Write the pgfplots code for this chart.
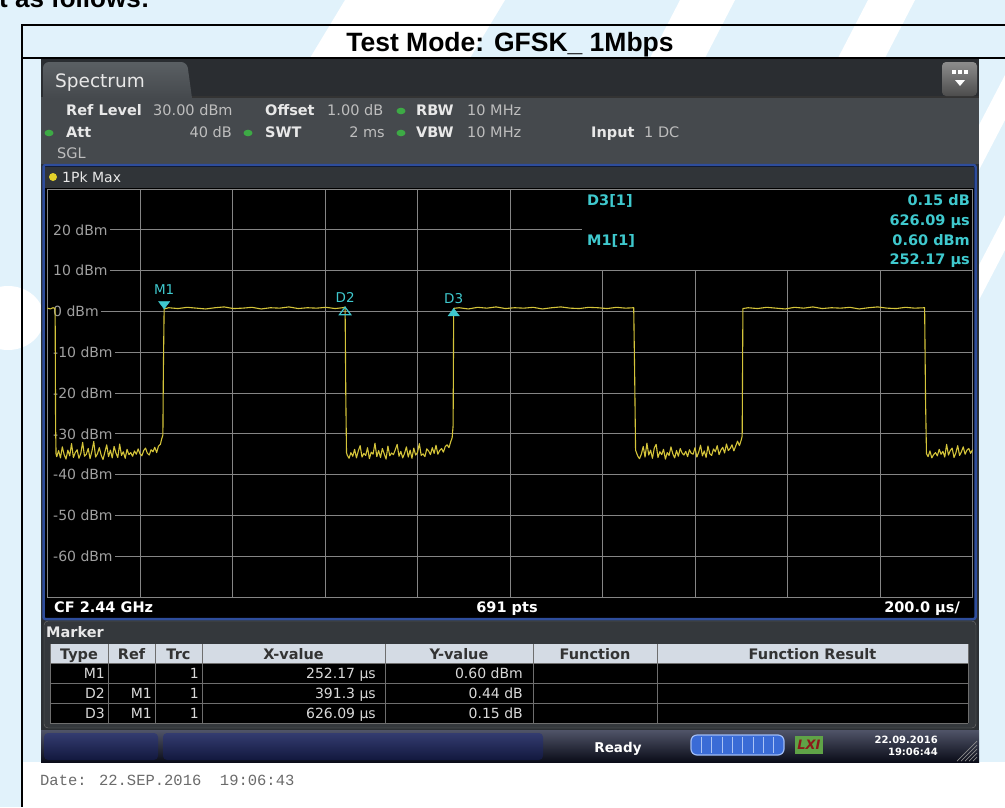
\documentclass[border=0pt]{standalone}
\usepackage{fontspec}
\setmainfont{DejaVu Sans}
\newfontfamily\arialfont{Liberation Sans}
\newfontfamily\courfont{Liberation Mono}
\usepackage{pgfplots}
\pgfplotsset{compat=1.18}
\newcommand\fs[1]{\fontsize{#1}{#1}\selectfont}
\definecolor{bgblue}{HTML}{E1F2FB}
\definecolor{scrdark}{HTML}{2C3034}
\definecolor{topstrip}{HTML}{2A2D31}
\definecolor{tabtop}{HTML}{5A5F63}
\definecolor{panelgray}{HTML}{45494D}
\definecolor{frameblue}{HTML}{2E4D9C}
\definecolor{barbg}{HTML}{303438}
\definecolor{gridc}{HTML}{858585}
\definecolor{labc}{HTML}{A0A0A0}
\definecolor{tracec}{HTML}{D4C43A}
\definecolor{mkc}{HTML}{3FC9CE}
\definecolor{hdrtxt}{HTML}{E8E8E8}
\definecolor{valtxt}{HTML}{BEBEBE}
\definecolor{tblhead}{HTML}{D4DBE4}
\definecolor{tblline}{HTML}{6E6E6E}
\definecolor{dotgreen}{HTML}{3DAA45}
\definecolor{dotyellow}{HTML}{E3D12A}
\definecolor{mpanel}{HTML}{34383C}
\definecolor{sbtop}{HTML}{505468}
\definecolor{sbbot}{HTML}{0A0C18}
\definecolor{boxtop}{HTML}{343C70}
\definecolor{boxbot}{HTML}{12183E}
\definecolor{progfill}{HTML}{3A6BD6}
\definecolor{progedge}{HTML}{A0BCF5}
\definecolor{progdiv}{HTML}{AAC2F5}
\definecolor{lxigreen}{HTML}{5FA347}
\definecolor{lxired}{HTML}{8C1A1A}
\newcommand\ylab[2]{\node[anchor=west, fill=black, inner xsep=0pt, inner ysep=2pt, text=labc, font=\fs{14}] at (axis cs:0,#1) {\hspace*{5.5pt}#2\hspace*{2.5pt}};}
\begin{document}
\begin{tikzpicture}
\useasboundingbox (0pt,0pt) rectangle (1005pt,-807pt);
\begin{scope}[x=1pt,y=-1pt]
% document background
\fill[bgblue] (0,0) rectangle (1005,807);
\fill[white] (345,0) -- (505,0) -- (470,58) -- (310,58) -- cycle;
\fill[white] (680,0) -- (735,0) -- (705,58) -- (650,58) -- cycle;
\fill[white] (868,0) -- (915,0) -- (885,58) -- (838,58) -- cycle;
\fill[white] (1005,75) -- (1005,120) -- (979,170) -- (979,125) -- cycle;
\fill[white] (1005,215) -- (1005,250) -- (979,300) -- (979,265) -- cycle;
\fill[white] (8,318) ellipse (36 and 32);
\fill[white] (23,762) rectangle (1005,807);
\node[anchor=base west, inner sep=0pt] at (-1,7) {\arialfont\bfseries\fs{26}t as follows:};
% document table lines
\draw[black, line width=2pt] (22,25) -- (1005,25);
\draw[black, line width=2pt] (22,58) -- (1005,58);
\draw[black, line width=2pt] (22,24) -- (22,807);
\node[anchor=base, inner sep=0pt] at (510,51) {\arialfont\bfseries\fs{26.5}Test Mode: GFSK\_ 1Mbps};
% screenshot
\fill[scrdark] (41,59) rectangle (979,762);
\fill[topstrip] (41,59) rectangle (979,97);
\fill[panelgray] (41,97) rectangle (979,164);
\shade[top color=tabtop, bottom color=panelgray] (43,98) [rounded corners=6pt] -- (43,62) -- (187,62) [sharp corners] -- (192,98) -- cycle;
\draw[black!80, line width=1.2pt] (192,97) -- (979,97);
\node[anchor=base west, inner sep=0pt, text=hdrtxt] at (55,87) {\fs{18.5}Spectrum};
% icon
\shade[rounded corners=4pt, top color=black!45, bottom color=black!70] (942,62) rectangle (977,96);
\fill[white] (952,70) rectangle (956,74);
\fill[white] (958,70) rectangle (962,74);
\fill[white] (964,70) rectangle (968,74);
\fill[white] (955,80) -- (965,80) -- (960,86) -- cycle;
% header text
\node[anchor=base west, inner sep=0pt, text=hdrtxt] at (66,115) {\fs{14.5}\bfseries Ref Level};
\node[anchor=base west, inner sep=0pt, text=valtxt] at (153,115) {\fs{14.5}30.00 dBm};
\node[anchor=base west, inner sep=0pt, text=hdrtxt] at (265,115) {\fs{14.5}\bfseries Offset};
\node[anchor=base west, inner sep=0pt, text=valtxt] at (327,115) {\fs{14.5}1.00 dB};
\fill[dotgreen] (401,111) ellipse (4.5 and 3.3);
\node[anchor=base west, inner sep=0pt, text=hdrtxt] at (416,115) {\fs{14.5}\bfseries RBW};
\node[anchor=base west, inner sep=0pt, text=valtxt] at (467,115) {\fs{14.5}10 MHz};
\fill[dotgreen] (49,133) ellipse (4.5 and 3.3);
\node[anchor=base west, inner sep=0pt, text=hdrtxt] at (66,137) {\fs{14.5}\bfseries Att};
\node[anchor=base east, inner sep=0pt, text=valtxt] at (232,137) {\fs{14.5}40 dB};
\fill[dotgreen] (248,133) ellipse (4.5 and 3.3);
\node[anchor=base west, inner sep=0pt, text=hdrtxt] at (265,137) {\fs{14.5}\bfseries SWT};
\node[anchor=base east, inner sep=0pt, text=valtxt] at (385,137) {\fs{14.5}2 ms};
\fill[dotgreen] (401,133) ellipse (4.5 and 3.3);
\node[anchor=base west, inner sep=0pt, text=hdrtxt] at (416,137) {\fs{14.5}\bfseries VBW};
\node[anchor=base west, inner sep=0pt, text=valtxt] at (467,137) {\fs{14.5}10 MHz};
\node[anchor=base west, inner sep=0pt, text=hdrtxt] at (591,137) {\fs{14.5}\bfseries Input};
\node[anchor=base west, inner sep=0pt, text=valtxt] at (644,137) {\fs{14.5}1 DC};
\node[anchor=base west, inner sep=0pt, text=valtxt] at (57,158) {\fs{14.5}SGL};
% diagram frame
\fill[black] (43,165) rectangle (976,619);
\fill[barbg] (45,167) rectangle (974,188);
\draw[frameblue, line width=2.5pt, rounded corners=2pt] (43.5,165) rectangle (975.5,619);
\fill[dotyellow] (53,177) circle (4);
\node[anchor=base west, inner sep=0pt, text=hdrtxt] at (62,182) {\fs{14}1Pk Max};
\node[anchor=base west, inner sep=0pt, text=white] at (54,612) {\fs{14.5}\bfseries CF 2.44 GHz};
\node[anchor=base, inner sep=0pt, text=white] at (507,612) {\fs{14.5}\bfseries 691 pts};
\node[anchor=base east, inner sep=0pt, text=white] at (960,612) {\fs{14.5}\bfseries 200.0 µs/};
% marker panel
\fill[mpanel, rounded corners=4pt] (44,621) rectangle (976,728);
\draw[black!55, rounded corners=4pt] (44,621) rectangle (976,728);
\node[anchor=base west, inner sep=0pt, text=hdrtxt] at (46,637) {\fs{14.5}\bfseries Marker};
\fill[tblhead] (50,644) rectangle (968,663);
\fill[black] (50,663) rectangle (968,723);
\foreach \yy in {663,683,703,723} {\draw[tblline, line width=1pt] (50,\yy) -- (968,\yy);}
\foreach \xx in {50,108,155,202,385,533,657,968} {\draw[tblline, line width=1pt] (\xx,644) -- (\xx,723);}
\foreach \xx/\tt in {79/Type,131.5/Ref,178.5/Trc,293.5/X-value,459/Y-value,595/Function,812.5/Function Result}
  {\node[anchor=base, inner sep=0pt, text=black!80] at (\xx,659) {\fs{14.5}\bfseries \tt};}
\foreach \yy/\a/\b/\c/\d in {678/M1//252.17 µs/0.60 dBm,698/D2/M1/391.3 µs/0.44 dB,718/D3/M1/626.09 µs/0.15 dB}
  {\node[anchor=base east, inner sep=0pt, text=black!15] at (105,\yy) {\fs{14}\a};
   \node[anchor=base east, inner sep=0pt, text=black!15] at (152,\yy) {\fs{14}\b};
   \node[anchor=base east, inner sep=0pt, text=black!15] at (199,\yy) {\fs{14}1};
   \node[anchor=base east, inner sep=0pt, text=black!15] at (376,\yy) {\fs{14}\c};
   \node[anchor=base east, inner sep=0pt, text=black!15] at (523,\yy) {\fs{14}\d};}
% status bar
\shade[top color=sbtop, bottom color=sbbot] (41,730) rectangle (979,762);
\shade[rounded corners=4pt, top color=boxtop, bottom color=boxbot] (44,733) rectangle (158,760);
\shade[rounded corners=4pt, top color=boxtop, bottom color=boxbot] (163,733) rectangle (543,760);
\node[anchor=base, inner sep=0pt, text=white] at (618,752) {\fs{13.5}\bfseries Ready};
\fill[progfill, rounded corners=6pt] (691,735) rectangle (784,755);
\draw[progedge, rounded corners=6pt, line width=1.2pt] (691,735) rectangle (784,755);
\foreach \k in {1,...,8} {\draw[progdiv, line width=0.9pt] (691+\k*10.33,737) -- (691+\k*10.33,753);}
\fill[lxigreen] (795,736) rectangle (823,754);
\node[inner sep=0pt, text=lxired] at (809,745) {\fs{13}\bfseries\itshape LXI};
\node[anchor=base east, inner sep=0pt, text=white] at (938,743) {\fs{10}\bfseries 22.09.2016};
\node[anchor=base east, inner sep=0pt, text=white] at (938,755) {\fs{10}\bfseries 19:06:44};
\foreach \k in {0,...,4} {\draw[black!45, line width=0.7pt] (957+4*\k,761) -- (977,741+4*\k);}
% date line
\node[anchor=base west, inner sep=0pt, text=black!58] at (40,785) {\courfont\fs{15.5}Date: 22.SEP.2016~~19:06:43};
\end{scope}
\begin{axis}[
  at={(47.5pt,-189pt)}, anchor=north west,
  width=925pt, height=408pt, scale only axis,
  xmin=0, xmax=2000, ymin=-70, ymax=30,
  axis background/.style={fill=black},
  axis line style={gridc, line width=0.8pt},
  xtick={0,200,...,2000}, ytick={-70,-60,...,30},
  xticklabels={}, yticklabels={},
  major tick length=0pt,
  grid=major,
  major grid style={gridc, line width=0.8pt},
  clip=false,
]
\ylab{20}{20 dBm}
\ylab{10}{10 dBm}
\ylab{0}{0 dBm}
\ylab{-10}{-10 dBm}
\ylab{-20}{-20 dBm}
\ylab{-30}{-30 dBm}
\ylab{-40}{-40 dBm}
\ylab{-50}{-50 dBm}
\ylab{-60}{-60 dBm}
\addplot[tracec, line width=1.1pt, line join=round] coordinates {
(0,0.8) (6,0.6) (12,0.9) (16.5,0.7) (17.5,-28) (18.5,-35.0)
(20,-35.6) (24,-34.1) (28,-35.9) (32,-33.2) (36,-35.1) (40,-36.2) (44,-34.0) (48,-35.4) (52,-32.4) (56,-35.8)
(60,-34.6) (64,-33.9) (68,-36.0) (72,-34.8) (76,-32.1) (80,-35.5) (84,-35.0) (88,-33.6) (92,-36.1) (96,-34.3)
(100,-31.9) (104,-35.7) (108,-34.9) (112,-33.4) (116,-35.2) (120,-36.3) (124,-34.5) (128,-32.7) (132,-35.6) (136,-34.0)
(140,-35.9) (144,-33.1) (148,-34.7) (152,-35.8) (156,-32.5) (160,-35.3) (164,-34.4) (168,-36.0) (172,-33.8) (176,-35.1)
(180,-34.6) (184,-35.5) (188,-34.2) (192,-35.0) (196,-33.7) (200,-34.9) (204,-35.4) (208,-34.1) (212,-33.5) (216,-34.8)
(220,-35.2) (224,-33.9) (228,-34.4) (232,-33.3) (236,-34.6) (240,-33.0) (244,-32.6)
(247,-31.2) (249.5,-30.3) (250.5,-15) (252.17,0.6)
(262,0.9) (282,0.7) (302,1.0) (322,0.8) (342,0.6) (362,0.9) (382,1.1) (402,0.7) (422,0.8) (442,1.0)
(462,0.6) (482,0.9) (502,0.8) (522,1.1) (542,0.7) (562,0.9) (582,0.8) (602,1.0) (622,0.7) (638,0.9) (643.47,1.04)
(645,-21) (646.5,-34.6)
(648,-35.2) (652,-36.0) (656,-34.6) (660,-35.5) (664,-33.8) (668,-35.9) (672,-34.2) (676,-32.9) (680,-35.7) (684,-34.8)
(688,-35.3) (692,-33.4) (696,-36.1) (700,-34.5) (704,-35.0) (708,-32.3) (712,-35.6) (716,-34.1) (720,-35.8) (724,-33.6)
(728,-34.9) (732,-36.2) (736,-33.0) (740,-35.4) (744,-34.7) (748,-35.1) (752,-33.9) (756,-32.6) (760,-35.5) (764,-34.3)
(768,-35.9) (772,-34.8) (776,-33.2) (780,-35.7) (784,-34.0) (788,-36.0) (792,-33.5) (796,-35.2) (800,-34.6) (804,-32.4)
(808,-35.3) (812,-34.9) (816,-35.6) (820,-33.7) (824,-34.2) (828,-35.1) (832,-33.4) (836,-34.8) (840,-32.8) (844,-35.0)
(848,-34.1) (852,-33.6) (856,-34.5) (860,-33.1) (864,-32.7) (868,-33.4) (872,-31.9)
(875,-30.9) (877,-28) (878.26,0.75)
(890,0.9) (910,0.6) (930,1.0) (950,0.8) (970,1.1) (990,0.7) (1010,0.9) (1030,0.8) (1050,1.0) (1070,0.6)
(1090,0.9) (1110,1.1) (1130,0.8) (1150,0.7) (1170,1.0) (1190,0.9) (1210,0.7) (1230,1.0) (1250,0.8) (1267.5,0.9)
(1269.5,-15) (1271.5,-34.0)
(1276,-35.4) (1280,-36.1) (1284,-35.0) (1288,-33.1) (1292,-35.7) (1296,-32.3) (1300,-35.2) (1304,-34.0) (1308,-36.0) (1312,-33.5)
(1316,-32.6) (1320,-35.8) (1324,-34.4) (1328,-35.1) (1332,-33.8) (1336,-36.2) (1340,-34.6) (1344,-35.3) (1348,-33.2) (1352,-34.9)
(1356,-35.9) (1360,-34.1) (1364,-35.5) (1368,-33.6) (1372,-34.7) (1376,-35.2) (1380,-34.3) (1384,-35.6) (1388,-33.9) (1392,-34.8)
(1396,-35.0) (1400,-33.4) (1404,-35.7) (1408,-34.5) (1412,-32.8) (1416,-35.4) (1420,-34.2) (1424,-35.8) (1428,-33.0) (1432,-34.9)
(1436,-35.3) (1440,-33.7) (1444,-34.4) (1448,-32.9) (1452,-35.1) (1456,-34.0) (1460,-33.3) (1464,-34.7) (1468,-32.5) (1472,-34.1)
(1476,-33.6) (1480,-32.7) (1484,-34.2) (1488,-33.0) (1492,-31.8) (1496,-32.9) (1500,-31.5)
(1502,-30.6) (1503.6,0.7)
(1515,0.9) (1535,0.7) (1555,1.0) (1575,0.8) (1595,0.6) (1615,1.0) (1635,0.8) (1655,1.1) (1675,0.7) (1695,0.9)
(1715,0.8) (1735,1.0) (1755,0.6) (1775,0.9) (1795,1.1) (1815,0.8) (1835,0.7) (1855,1.0) (1875,0.8) (1896.5,0.9)
(1898.5,-22) (1900.5,-34.9)
(1904,-35.6) (1908,-34.2) (1912,-35.9) (1916,-35.1) (1920,-34.6) (1924,-35.4) (1928,-33.8) (1932,-35.0) (1936,-34.3) (1940,-35.7)
(1944,-32.6) (1948,-35.2) (1952,-34.1) (1956,-33.5) (1960,-35.8) (1964,-34.7) (1968,-32.9) (1972,-35.3) (1976,-34.4) (1980,-33.2)
(1984,-35.0) (1988,-34.0) (1992,-33.6) (1996,-34.8) (2000,-33.9)
};
\addplot[only marks, mark=triangle*, mark size=5pt, mark options={fill=mkc, draw=mkc, yshift=5pt, rotate=180, xscale=1.3}] coordinates {(252.17,0.6)};
\addplot[only marks, mark=triangle, mark size=5pt, mark options={fill=black, draw=mkc, line width=1.2pt, yshift=-5pt, xscale=1.3}] coordinates {(643.47,1.04)};
\addplot[only marks, mark=triangle*, mark size=5pt, mark options={fill=mkc, draw=mkc, yshift=-5pt, xscale=1.3}] coordinates {(878.26,0.75)};
\node[anchor=base, inner sep=0pt, text=mkc, font=\fs{13.5}, yshift=14pt] at (axis cs:252.17,0.6) {M1};
\node[anchor=base, inner sep=0pt, text=mkc, font=\fs{13.5}, yshift=4.5pt] at (axis cs:643.47,1.04) {D2};
\node[anchor=base, inner sep=0pt, text=mkc, font=\fs{13.5}, yshift=5pt] at (axis cs:878.26,0.75) {D3};
\end{axis}
\begin{scope}[x=1pt,y=-1pt]
\fill[black] (582,190) rectangle (972,269.5);
\node[anchor=base west, inner sep=0pt, text=mkc] at (587,205) {\fs{14.5}\bfseries D3[1]};
\node[anchor=base east, inner sep=0pt, text=mkc] at (970,205) {\fs{14.5}\bfseries 0.15 dB};
\node[anchor=base east, inner sep=0pt, text=mkc] at (970,225) {\fs{14.5}\bfseries 626.09 µs};
\node[anchor=base west, inner sep=0pt, text=mkc] at (587,245) {\fs{14.5}\bfseries M1[1]};
\node[anchor=base east, inner sep=0pt, text=mkc] at (970,245) {\fs{14.5}\bfseries 0.60 dBm};
\node[anchor=base east, inner sep=0pt, text=mkc] at (970,264) {\fs{14.5}\bfseries 252.17 µs};
\end{scope}
\end{tikzpicture}
\end{document}
